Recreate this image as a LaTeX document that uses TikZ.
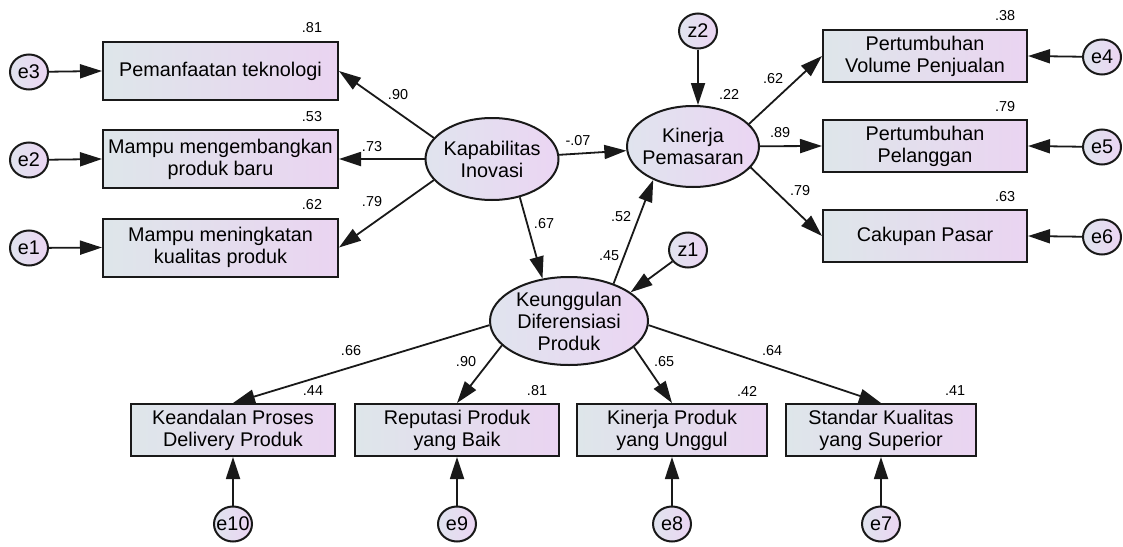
\documentclass[tikz,border=0pt]{standalone}
\usepackage{fontspec}
\setmainfont{Liberation Sans}
\usetikzlibrary{positioning,arrows.meta,shapes.geometric}
\definecolor{boxleft} {RGB}{222,230,234}
\definecolor{boxright}{RGB}{234,212,241}
\definecolor{latleft} {RGB}{224,228,238}
\definecolor{latright}{RGB}{235,213,243}
\definecolor{linecol} {RGB}{25,25,25}

\begin{document}
\begin{tikzpicture}[
  x=0.5pt,y=-0.5pt,
  obs/.style={rectangle,draw=linecol,left color=boxleft,right color=boxright,
              minimum width=117.5pt,minimum height=29pt,inner sep=0pt,
              font=\fontsize{9.9}{11}\selectfont,align=center,line width=1pt},
  obsr/.style={obs,minimum width=102pt,minimum height=26pt},
  obsn/.style={obs,minimum width=95pt,minimum height=26pt},
  lat/.style={ellipse,draw=linecol,left color=latleft,right color=latright,
              minimum width=66.5pt,minimum height=41pt,
              inner xsep=-4pt,inner ysep=0pt,
              font=\fontsize{9.9}{11}\selectfont,align=center,line width=1pt},
  err/.style={ellipse,draw=linecol,left color=latleft,right color=latright,
              minimum width=19pt,minimum height=17.5pt,
              inner xsep=-3pt,inner ysep=0pt,
              font=\fontsize{9.9}{11}\selectfont,line width=1pt},
  coef/.style={font=\fontsize{7.2}{8}\selectfont,inner sep=0pt},
  arr/.style={-{Triangle[length=11pt,width=7pt]},line width=0.9pt,linecol},
]
\path[fill=white,use as bounding box] (0,0) rectangle (1123,546);
% indicators of Kapabilitas Inovasi
\node[obs] (pt) at (220.5,71)   {Pemanfaatan teknologi};
\node[obs] (mb) at (220.5,159)  {Mampu mengembangkan\\produk baru};
\node[obs] (mk) at (220.5,247.5){Mampu meningkatan\\kualitas produk};
\node[err] (e3) at (29,72)  {e3};
\node[err] (e2) at (29,160) {e2};
\node[err] (e1) at (29,248) {e1};
% latent variables
\node[lat] (kap) at (492,159) {Kapabilitas\\Inovasi};
\node[lat,minimum width=66pt,minimum height=40.5pt] (kp) at (693,146.5)
  {Kinerja\\Pemasaran};
\node[lat,minimum width=79pt,minimum height=44pt] (keu) at (569,321)
  {Keunggulan\\Diferensiasi\\Produk};
\node[err] (z2) at (698,31)  {z2};
\node[err] (z1) at (688,250) {z1};
% indicators of Kinerja Pemasaran
\node[obsr] (pvp) at (925,56)  {Pertumbuhan\\Volume Penjualan};
\node[obsr] (pp)  at (925,146) {Pertumbuhan\\Pelanggan};
\node[obsr] (cp)  at (925,236) {Cakupan Pasar};
\node[err] (e4) at (1102,57)  {e4};
\node[err] (e5) at (1102,147) {e5};
\node[err] (e6) at (1102,237) {e6};
% indicators of Keunggulan Diferensiasi Produk
\node[obsr] (kpd) at (233,430) {Keandalan Proses\\Delivery Produk};
\node[obsr] (rp)  at (457,430) {Reputasi Produk\\yang Baik};
\node[obsn] (kpu) at (672,430) {Kinerja Produk\\yang Unggul};
\node[obsn] (skp) at (881,430) {Standar Kualitas\\yang Superior};
\node[err] (e10) at (233,524) {e10};
\node[err] (e9)  at (457,524) {e9};
\node[err] (e8)  at (672,524) {e8};
\node[err] (e7)  at (881,524) {e7};
% error terms
\draw[arr] (e3) -- (pt.west);
\draw[arr] (e2) -- (mb.west);
\draw[arr] (e1) -- (mk.west);
\draw[arr] (e4) -- (pvp.east);
\draw[arr] (e5) -- (pp.east);
\draw[arr] (e6) -- (cp.east);
\draw[arr] (e10) -- (kpd.south);
\draw[arr] (e9)  -- (rp.south);
\draw[arr] (e8)  -- (kpu.south);
\draw[arr] (e7)  -- (skp.south);
\draw[arr] (z2) -- (z2 |- kp.north);
\draw[arr] (z1) -- (keu.25);
% loadings and paths
\draw[arr] (kap.160)  -- (pt.east);
\draw[arr] (kap)      -- (mb.east);
\draw[arr] (kap.-160) -- (mk.east);
\draw[arr] (kap)      -- (kp);
\draw[arr] (kap.-54)  -- (keu.122);
\draw[arr] (keu.40)   -- (kp.220);
\draw[arr] (kp.22)    -- (pvp.west);
\draw[arr] (kp)       -- (pp.west);
\draw[arr] (kp.-20)   -- (cp.west);
\draw[arr] (keu.183)  -- (kpd.north);
\draw[arr] (keu.200)  -- (rp.north);
\draw[arr] (keu.-22)  -- (kpu.north);
\draw[arr] (keu.-3)   -- (skp.north);
% squared multiple correlations
\node[coef] (r2pt)  at (312,28)   {.81};
\node[coef] (r2mb)  at (312,117)  {.53};
\node[coef] (r2mk)  at (312,205)  {.62};
\node[coef] (r2pvp) at (1005,15.5){.38};
\node[coef] (r2pp)  at (1005,107) {.79};
\node[coef] (r2cp)  at (1005,197) {.63};
\node[coef] (r2kp)  at (729,94)   {.22};
\node[coef] (r2keu) at (609,256)  {.45};
\node[coef] (r2kpd) at (313,391)  {.44};
\node[coef] (r2rp)  at (537,391)  {.81};
\node[coef] (r2kpu) at (747,391)  {.42};
\node[coef] (r2skp) at (955,391)  {.41};
% standardized estimates
\node[coef] (lpt)   at (398,95)  {.90};
\node[coef] (lmb)   at (372,147) {.73};
\node[coef] (lmk)   at (372,202) {.79};
\node[coef] (lkapkp)  at (578,141) {-.07};
\node[coef] (lkapkeu) at (544,224) {.67};
\node[coef] (lkeukp)  at (621,217) {.52};
\node[coef] (lpvp)  at (773,79)  {.62};
\node[coef] (lpp)   at (780,133) {.89};
\node[coef] (lcp)   at (800,191) {.79};
\node[coef] (lkpd)  at (351,351) {.66};
\node[coef] (lrp)   at (466,362) {.90};
\node[coef] (lkpu)  at (664,362) {.65};
\node[coef] (lskp)  at (772,351) {.64};
\end{tikzpicture}
\end{document}
